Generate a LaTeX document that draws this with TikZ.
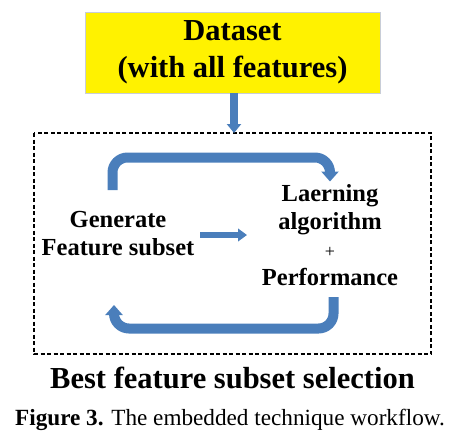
\documentclass[tikz,border=0pt]{standalone}
\usepackage{fontspec}
\setmainfont{Liberation Serif}
\usetikzlibrary{arrows.meta}
\definecolor{arrblue}{RGB}{74,126,187}
\definecolor{boxedge}{RGB}{200,205,215}
\tikzset{
  bigtext/.style={font=\fontsize{30.5}{36}\selectfont\bfseries, align=center, inner sep=0pt},
  midtext/.style={font=\fontsize{24.5}{28}\selectfont\bfseries, align=center, inner sep=0pt},
  flow/.style={draw=arrblue, line width=10pt, rounded corners=15pt,
    -{Triangle[length=10pt,width=17pt]}},
}
\begin{document}
\begin{tikzpicture}[x=1pt,y=-1pt]
\useasboundingbox (0,0) rectangle (449,444);
\node[draw=boxedge, line width=0.8pt, fill=yellow, minimum width=295pt, minimum height=81pt,
      bigtext, font=\fontsize{30.5}{37}\selectfont\bfseries] (data) at (232.5,52.5)
      {Dataset\\(with all features)};
\draw[black, line width=1.3pt, dash pattern=on 4pt off 2.5pt] (34,133) rectangle (431,354);
\coordinate (boxtop) at (234,133);
\draw[draw=arrblue, line width=8.5pt, -{Triangle[length=9pt,width=14pt]}] (data.south -| boxtop) -- (boxtop);
\node[midtext] (gen) at (118,234) {Generate\\Feature subset};
\node[midtext] (learn) at (330,235)
      {Laerning\\algorithm\\{\normalfont\fontsize{18}{20}\selectfont +}\\Performance};
\coordinate (a1) at (112.5,190);
\coordinate (a2) at (330,181.5);
\draw[flow] (a1) -- (a1 |- 0,157.5) -- (a2 |- 0,157.5) -- (a2);
\coordinate (b1) at (333.5,297);
\coordinate (b2) at (114,305);
\draw[flow] (b1) -- (b1 |- 0,328.5) -- (b2 |- 0,328.5) -- (b2);
\coordinate (m1) at (200,235);
\coordinate (m2) at (247,235);
\draw[draw=arrblue, line width=6.5pt, -{Triangle[length=9pt,width=12.5pt]}] (m1) -- (m2);
\node[bigtext] (best) at (232.5,378) {Best feature subset selection};
\node[inner sep=0pt, font=\fontsize{23.2}{27}\selectfont] (cap) at (230,420)
      {\textbf{Figure 3.} The embedded technique workflow.};
\end{tikzpicture}
\end{document}
